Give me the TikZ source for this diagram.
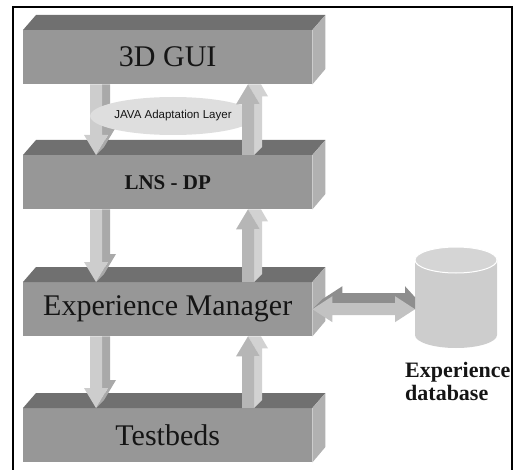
\documentclass[tikz,border=0pt]{standalone}
\usepackage{fontspec}
\setmainfont{Liberation Serif}
\newfontfamily\javafont{Liberation Sans}
\usetikzlibrary{calc,shapes.geometric}

\definecolor{frontgray}{HTML}{979797}
\definecolor{topgray}{HTML}{707070}
\definecolor{sidegray}{HTML}{B1B1B1}
\definecolor{textgray}{HTML}{151515}
\definecolor{downfront}{HTML}{CDCDCD}
\definecolor{downside}{HTML}{A9A9A9}
\definecolor{upfront}{HTML}{B6B6B6}
\definecolor{upside}{HTML}{D2D2D2}
\definecolor{linkfront}{HTML}{C2C2C2}
\definecolor{linkside}{HTML}{8E8E8E}
\definecolor{ellgray}{HTML}{DEDEDE}
\definecolor{dbgray}{HTML}{CDCDCD}
\definecolor{dbtop}{HTML}{D5D5D5}

\begin{document}
\begin{tikzpicture}[x=1pt,y=-1pt,
	layer/.style={fill=frontgray, minimum width=289pt, minimum height=54pt, inner sep=0pt, anchor=north west, text=textgray},
	bigtext/.style={font=\fontsize{30}{30}\selectfont}]

	\useasboundingbox (0,0) rectangle (513,470);

	% frame
	\draw[line width=2pt] (13,475) -- (13,7) -- (512,7) -- (512,475);

	% layers
	\node[layer, bigtext] (gui) at (23,30) {3D GUI};
	\node[layer, font=\bfseries\fontsize{21}{21}\selectfont] (lns) at (23,155) {LNS - DP};
	\node[layer, bigtext] (em) at (23,282) {Experience Manager};
	\node[layer, bigtext] (tb) at (23,408) {Testbeds};
	\foreach \b in {gui,lns,em,tb}{
		\fill[topgray] (\b.north west) -- ++(13,-15) -- ([shift={(13,-15)}]\b.north east) -- (\b.north east) -- cycle;
		\fill[sidegray] (\b.north east) -- ++(13,-15) -- ++(0,54) -- (\b.south east) -- cycle;
	}

	% down arrows
	\foreach \a/\b in {gui/lns,lns/em,em/tb}{
		\fill[downside] let \p1=(\a.south), \p2=(\b.north) in
			(102pt,\y1) -- (110pt,\y1) -- (110pt,\y2+28pt) -- (116pt,\y2+28pt) -- (104pt,\y2+8pt)
			-- (96pt,\y2) -- (108pt,\y2+20pt) -- (102pt,\y2+20pt) -- cycle;
		\fill[downfront] let \p1=(\a.south), \p2=(\b.north) in
			(90pt,\y1) -- (102pt,\y1) -- (102pt,\y2+20pt) -- (108pt,\y2+20pt) -- (96pt,\y2)
			-- (84pt,\y2+20pt) -- (90pt,\y2+20pt) -- cycle;
	}

	% adaptation layer
	\node[ellipse, fill=ellgray, minimum width=164pt, minimum height=38pt, inner sep=0pt,
		font=\javafont\fontsize{11.5}{12}\selectfont, text=textgray] (java) at (173,116) {JAVA Adaptation Layer};

	% up arrows
	\foreach \a/\b in {lns/gui,em/lns,tb/em}{
		\fill[upside] let \p1=(\a.north), \p2=(\b.south) in
			(254pt,\y1) -- (262pt,\y1+8pt) -- (262pt,\y2-12pt) -- (268pt,\y2-12pt) -- (261pt,\y2)
			-- (248pt,\y2) -- (260pt,\y2-20pt) -- (254pt,\y2-20pt) -- cycle;
		\fill[upfront] let \p1=(\a.north), \p2=(\b.south) in
			(242pt,\y1) -- (242pt,\y2-20pt) -- (236pt,\y2-20pt) -- (248pt,\y2) -- (260pt,\y2-20pt)
			-- (254pt,\y2-20pt) -- (254pt,\y1) -- cycle;
	}

	% database
	\coordinate (db) at (415,309);
	\fill[dbgray] (415,260) -- (415,335) arc[start angle=180, end angle=0, x radius=41, y radius=13] -- (497,260) -- cycle;
	\filldraw[fill=dbtop, draw=white, line width=1pt] (456,260) ellipse[x radius=41, y radius=13];
	\node[anchor=north west, align=left, inner sep=0pt, text=textgray,
		font=\bfseries\fontsize{22}{23}\selectfont] (dblabel) at (405,362) {Experience\\database};

	% link to database
	\fill[linkside] let \p1=(em.east), \p2=(db) in
		(\x1,\y1) -- (\x1+10pt,\y1+10pt) -- (\x1+30pt,\y1+23pt) -- (\x1+30pt,\y1+16pt) -- (\x2-10pt,\y1+16pt)
		-- (\x2-10pt,\y1+23pt) -- (\x2,\y1+12pt) -- (\x2,\y1) -- cycle;
	\fill[linkfront] let \p1=(em.east), \p2=(db) in
		(\x1,\y1) -- (\x1+20pt,\y1+13pt) -- (\x1+20pt,\y1+6pt) -- (\x2-20pt,\y1+6pt) -- (\x2-20pt,\y1+13pt)
		-- (\x2,\y1) -- (\x2-20pt,\y1-13pt) -- (\x2-20pt,\y1-6pt) -- (\x1+20pt,\y1-6pt) -- (\x1+20pt,\y1-13pt) -- cycle;
\end{tikzpicture}
\end{document}
